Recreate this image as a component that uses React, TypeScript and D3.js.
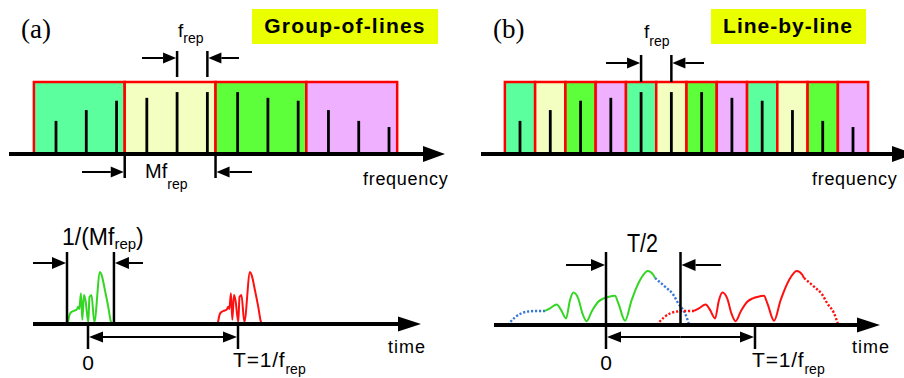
import * as d3 from 'd3';

// comb line amplitudes (relative), 12 lines
const lineAmps = [0.46, 0.61, 0.74, 0.78, 0.86, 0.86, 0.86, 0.78, 0.74, 0.61, 0.46, 0.375];
const groupColors = ['#5cff9e', '#f2ffc0', '#5cff3a', '#eeb0ff'];
// group boundaries in line-index units for (a)
const groupBounds = [-0.73, 2.27, 5.27, 8.27, 11.27];

// pulse shape for (a): [t / T, amplitude]
const pulseA: [number, number][] = [
  [-0.135, 0], [-0.12, 0.2], [-0.098, 0.25], [-0.075, 0.28], [-0.065, 0.33], [-0.058, 0.29],
  [-0.047, 0.59], [-0.038, 0.08], [-0.027, 0.56], [-0.017, 0.46], [0.002, 0.04], [0.01, 0.52],
  [0.023, 0.56], [0.042, 0.04], [0.08, 1.0], [0.091, 0.94], [0.113, 0.65], [0.135, 0.33],
  [0.153, 0.04], [0.162, 0],
];

// pulse shape for (b): dotted lead, solid main, dotted tail
const pulseBLead: [number, number][] = [
  [-0.66, 0], [-0.611, 0.14], [-0.566, 0.22], [-0.521, 0.25], [-0.465, 0.26], [-0.409, 0.26],
];
const pulseBMain: [number, number][] = [
  [-0.409, 0.26], [-0.376, 0.31], [-0.331, 0.38], [-0.302, 0.28], [-0.268, 0.12], [-0.242, 0.46],
  [-0.219, 0.6], [-0.186, 0.49], [-0.159, 0.22], [-0.13, 0.07], [-0.096, 0.25], [-0.052, 0.43],
  [-0.018, 0.49], [0.015, 0.52], [0.06, 0.54], [0.083, 0.4], [0.128, 0.08], [0.172, 0.46],
  [0.228, 0.83], [0.28, 1.0], [0.317, 0.93], [0.329, 0.87],
];
const pulseBTail: [number, number][] = [
  [0.329, 0.87], [0.396, 0.71], [0.452, 0.56], [0.485, 0.4], [0.53, 0.22], [0.559, 0],
];

const windowA = [-0.14, 0.173]; // 1/(M f_rep) gate, in units of T
const halfT = [0, 0.5];

const SANS = 'Liberation Sans, Arial, sans-serif';
const SERIF = 'Liberation Serif, Times New Roman, serif';
const GREEN = '#33d622';
const RED = '#ff1010';
const BLUE = '#3a78d8';

function Arrow({ x1, x2, y, head = 13, half = 5.5 }: { x1: number; x2: number; y: number; head?: number; half?: number }) {
  const dir = x2 > x1 ? 1 : -1;
  const base = x2 - dir * head;
  return (
    <g>
      <line x1={x1} x2={base} y1={y} y2={y} stroke="#000" strokeWidth={2} />
      <path d={`M${x2},${y}L${base},${y - half}L${base},${y + half}Z`} fill="#000" />
    </g>
  );
}

function Axis({ x1, x2, y, base, half, w }: { x1: number; x2: number; y: number; base: number; half: number; w: number }) {
  return (
    <g>
      <line x1={x1} x2={base + 2} y1={y} y2={y} stroke="#000" strokeWidth={w} />
      <path d={`M${x2},${y}L${base},${y - half}L${base},${y + half}Z`} fill="#000" />
    </g>
  );
}

function VLine({ x, y1, y2, w = 2.5 }: { x: number; y1: number; y2: number; w?: number }) {
  return <line x1={x} x2={x} y1={y1} y2={y2} stroke="#000" strokeWidth={w} />;
}

export default function App() {
  const idx = lineAmps.map((_, i) => i);
  const xA = d3.scaleLinear().domain([0, 11]).range([56, 389]);
  const xB = d3.scaleLinear().domain([0, 11]).range([520, 853]);
  const yTop = d3.scaleLinear().domain([0, 1]).range([154, 82]);

  const tA = d3.scaleLinear().domain([0, 1]).range([88, 238]);
  const aA = d3.scaleLinear().domain([0, 1]).range([324, 272]);
  const tB = d3.scaleLinear().domain([0, 1]).range([606, 755]);
  const aB = d3.scaleLinear().domain([0, 1]).range([325, 271]);

  const mkLine = (t: d3.ScaleLinear<number, number>, a: d3.ScaleLinear<number, number>, shift: number) =>
    d3
      .line<[number, number]>()
      .x((d) => t(d[0] + shift))
      .y((d) => a(d[1]))
      .curve(d3.curveMonotoneX);

  const dots = '2.2 1.8';

  return (
    <svg width={904} height={378} style={{ position: 'absolute', left: 0, top: 0, background: '#fff' }} fontFamily={SANS}>
      {/* ---------- (a) spectrum ---------- */}
      <text x={21} y={38} fontFamily={SERIF} fontSize={27}>(a)</text>
      <rect x={252} y={9} width={186} height={35} fill="#eaff00" />
      <text x={345} y={33} textAnchor="middle" fontSize={21} fontWeight="bold" letterSpacing={1.2}>Group-of-lines</text>

      {groupBounds.slice(0, -1).map((b, k) => (
        <rect
          key={k}
          x={xA(b)}
          y={yTop(1)}
          width={xA(groupBounds[k + 1]) - xA(b)}
          height={yTop(0) - yTop(1)}
          fill={groupColors[k]}
          stroke="#ff0000"
          strokeWidth={2.5}
        />
      ))}
      {idx.map((i) => (
        <line key={i} x1={xA(i)} x2={xA(i)} y1={yTop(0)} y2={yTop(lineAmps[i])} stroke="#000" strokeWidth={2.8} />
      ))}
      <Axis x1={9} x2={445} y={154} base={423} half={8} w={4} />

      <VLine x={xA(4)} y1={51} y2={77} />
      <VLine x={xA(5)} y1={51} y2={77} />
      <Arrow x1={142} x2={xA(4) - 1} y={58} />
      <Arrow x1={239} x2={xA(5) + 1} y={58} />
      <text x={178} y={37} fontSize={19}>
        f<tspan dy={6} fontSize={14}>rep</tspan>
      </text>

      <VLine x={xA(groupBounds[1])} y1={154} y2={178} />
      <VLine x={xA(groupBounds[2])} y1={154} y2={178} />
      <Arrow x1={82} x2={xA(groupBounds[1]) - 1} y={172} />
      <Arrow x1={252} x2={xA(groupBounds[2]) + 1} y={172} />
      <text x={145} y={178} fontSize={20}>
        Mf<tspan dy={11} fontSize={14}>rep</tspan>
      </text>
      <text x={363} y={185} fontSize={18} letterSpacing={0.7}>frequency</text>

      {/* ---------- (b) spectrum ---------- */}
      <text x={493} y={38} fontFamily={SERIF} fontSize={27}>(b)</text>
      <rect x={711} y={9} width={155} height={35} fill="#eaff00" />
      <text x={788} y={33} textAnchor="middle" fontSize={21} fontWeight="bold" letterSpacing={1}>Line-by-line</text>

      {idx.map((i) => (
        <rect
          key={i}
          x={xB(i - 0.5)}
          y={yTop(1)}
          width={xB(i + 0.5) - xB(i - 0.5)}
          height={yTop(0) - yTop(1)}
          fill={groupColors[i % 4]}
          stroke="#ff0000"
          strokeWidth={2.5}
        />
      ))}
      {idx.map((i) => (
        <line key={i} x1={xB(i)} x2={xB(i)} y1={yTop(0)} y2={yTop(lineAmps[i])} stroke="#000" strokeWidth={2.8} />
      ))}
      <Axis x1={481} x2={914} y={154} base={892} half={8} w={4} />

      <VLine x={xB(4)} y1={55} y2={82} />
      <VLine x={xB(5)} y1={55} y2={82} />
      <Arrow x1={606} x2={xB(4) - 1} y={63} />
      <Arrow x1={704} x2={xB(5) + 1} y={63} />
      <text x={644} y={38} fontSize={19}>
        f<tspan dy={8} fontSize={14}>rep</tspan>
      </text>
      <text x={812} y={185} fontSize={18} letterSpacing={0.7}>frequency</text>

      {/* ---------- (a) time ---------- */}
      <path d={mkLine(tA, aA, 0)(pulseA) ?? ''} fill="none" stroke={GREEN} strokeWidth={2} />
      <path d={mkLine(tA, aA, 1)(pulseA) ?? ''} fill="none" stroke={RED} strokeWidth={2} />
      <Axis x1={33} x2={421} y={324} base={398} half={7.5} w={4} />

      <VLine x={tA(windowA[0])} y1={252} y2={324} />
      <VLine x={tA(windowA[1])} y1={252} y2={324} />
      <Arrow x1={33} x2={tA(windowA[0]) - 1} y={263} head={14} half={6} />
      <Arrow x1={143} x2={tA(windowA[1]) + 1} y={263} head={14} half={6} />
      <text x={62} y={245} fontSize={23}>
        1/(Mf<tspan dy={4} fontSize={15}>rep</tspan>
        <tspan dy={-4} fontSize={23}>)</tspan>
      </text>

      <VLine x={tA(0)} y1={324} y2={349} />
      <VLine x={tA(1)} y1={324} y2={349} />
      <Arrow x1={(tA(0) + tA(1)) / 2} x2={tA(0) + 1} y={337} head={14} half={5.5} />
      <Arrow x1={(tA(0) + tA(1)) / 2} x2={tA(1) - 1} y={337} head={14} half={5.5} />
      <text x={tA(0)} y={370} textAnchor="middle" fontSize={21}>0</text>
      <text x={233} y={367} fontSize={21} letterSpacing={0.8}>
        T=1/f<tspan dy={7} fontSize={14} letterSpacing={0}>rep</tspan>
      </text>
      <text x={388} y={353} fontSize={18} letterSpacing={1}>time</text>

      {/* ---------- (b) time ---------- */}
      <path d={mkLine(tB, aB, 0)(pulseBLead) ?? ''} fill="none" stroke={BLUE} strokeWidth={2.4} strokeDasharray={dots} />
      <path d={mkLine(tB, aB, 0)(pulseBMain) ?? ''} fill="none" stroke={GREEN} strokeWidth={2} />
      <path d={mkLine(tB, aB, 0)(pulseBTail) ?? ''} fill="none" stroke={BLUE} strokeWidth={2.4} strokeDasharray={dots} />
      <path d={mkLine(tB, aB, 1)(pulseBLead) ?? ''} fill="none" stroke={RED} strokeWidth={2.4} strokeDasharray={dots} />
      <path d={mkLine(tB, aB, 1)(pulseBMain) ?? ''} fill="none" stroke={RED} strokeWidth={2} />
      <path d={mkLine(tB, aB, 1)(pulseBTail) ?? ''} fill="none" stroke={RED} strokeWidth={2.4} strokeDasharray={dots} />
      <Axis x1={494} x2={880} y={325} base={857} half={7.5} w={4} />

      <VLine x={tB(halfT[0])} y1={252} y2={349} />
      <VLine x={tB(halfT[1])} y1={252} y2={325} />
      <Arrow x1={566} x2={tB(halfT[0]) - 1} y={265} head={14} half={6} />
      <Arrow x1={721} x2={tB(halfT[1]) + 1} y={265} head={14} half={6} />
      <text x={627} y={252} fontSize={25} textLength={31} lengthAdjust="spacingAndGlyphs">T/2</text>

      <VLine x={tB(1)} y1={325} y2={349} />
      <Arrow x1={(tB(0) + tB(1)) / 2} x2={tB(0) + 1} y={337} head={14} half={5.5} />
      <Arrow x1={(tB(0) + tB(1)) / 2} x2={tB(1) - 1} y={337} head={14} half={5.5} />
      <text x={tB(0)} y={370} textAnchor="middle" fontSize={21}>0</text>
      <text x={752} y={367} fontSize={21} letterSpacing={0.8}>
        T=1/f<tspan dy={7} fontSize={14} letterSpacing={0}>rep</tspan>
      </text>
      <text x={852} y={353} fontSize={18} letterSpacing={1}>time</text>
    </svg>
  );
}
